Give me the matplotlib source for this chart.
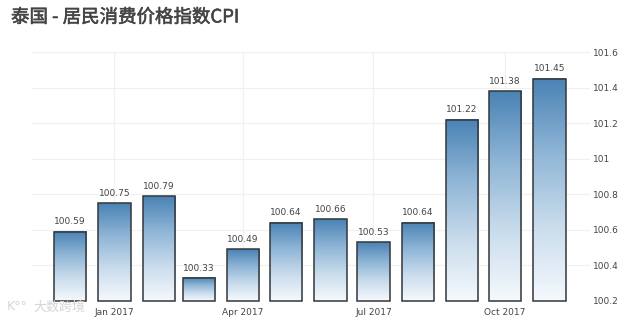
#!/usr/bin/env python
import numpy as np
import pandas as pd
import matplotlib
matplotlib.use('Agg')
import matplotlib.pyplot as plt
import matplotlib.dates as mdates
import matplotlib.patheffects as pe
from matplotlib.colors import LinearSegmentedColormap
from matplotlib.patches import Rectangle

plt.rcParams['font.family'] = ['Noto Sans CJK SC', 'DejaVu Sans']

values = [100.59, 100.75, 100.79, 100.33, 100.49, 100.64, 100.66, 100.53, 100.64, 101.22, 101.38, 101.45]
months = ['2016-12-01', '2017-01-01', '2017-02-01', '2017-03-01', '2017-04-01', '2017-05-01',
          '2017-06-01', '2017-07-01', '2017-08-01', '2017-09-01', '2017-10-01', '2017-11-01']
x_ticks = ['2017-01-01', '2017-04-01', '2017-07-01', '2017-10-01']
y_ticks = [100.2, 100.4, 100.6, 100.8, 101, 101.2, 101.4, 101.6]
y_labels = ['100.2', '100.4', '100.6', '100.8', '101', '101.2', '101.4', '101.6']
title = '泰国 - 居民消费价格指数CPI'

W, H = 640, 320
fig = plt.figure(figsize=(W / 100, H / 100), dpi=100)
# axes box in pixels: left 32, right 590, top 52, bottom 301
ax = fig.add_axes([32 / W, 1 - 301 / H, 558 / W, 249 / H])

dates = mdates.date2num(pd.to_datetime(months))
x0 = dates[0] - 26.6
x1 = dates[0] + 363.4

cmap = LinearSegmentedColormap.from_list('bar', ['#f5f9fd', '#c9dcec', '#8fb5d6', '#4a83b5'])
grad = np.linspace(0, 1, 128).reshape(-1, 1)
bar_w = 22.6

for d, v in zip(dates, values):
    ax.imshow(grad, extent=(d - bar_w / 2, d + bar_w / 2, 100.2, v), origin='lower',
              cmap=cmap, aspect='auto', zorder=2)
    ax.add_patch(Rectangle((d - bar_w / 2, 100.2), bar_w, v - 100.2, fill=False,
                           edgecolor='#33373b', linewidth=1.1, zorder=3, clip_on=False))
    ax.text(d, v + 0.03, '%.2f' % v, ha='center', va='bottom', fontsize=6.5,
            color='#444444', family='DejaVu Sans', zorder=4)

ax.set_xlim(x0, x1)
ax.set_ylim(100.2, 101.6)

ax.set_xticks(mdates.date2num(pd.to_datetime(x_ticks)))
ax.set_xticklabels(pd.to_datetime(x_ticks).strftime('%b %Y'), fontsize=6.5, color='#444444', family='DejaVu Sans')
ax.yaxis.tick_right()
ax.set_yticks(y_ticks)
ax.set_yticklabels(y_labels, fontsize=6.5, color='#444444', family='DejaVu Sans')
ax.tick_params(axis='x', length=0, pad=5)
ax.tick_params(axis='y', length=0, pad=2)
ax.grid(True, color='#f0f0f0', linewidth=0.9, zorder=0)
ax.set_axisbelow(True)
for s in ax.spines.values():
    s.set_visible(False)

t = fig.text(11 / W, 1 - 17.5 / H, title, fontsize=13.3, color='#444444', va='center', ha='left')
t.set_path_effects([pe.withStroke(linewidth=0.4, foreground='#444444')])

# watermark bottom left
fig.text(7 / W, 1 - 306 / H, 'K°°', fontsize=9, color='#d6d6d6', va='center', ha='left',
         family='DejaVu Sans')
fig.text(33 / W, 1 - 307 / H, '大数跨境', fontsize=9.4, color='#d6d6d6', va='center', ha='left')

fig.savefig('out.png', dpi=100)
